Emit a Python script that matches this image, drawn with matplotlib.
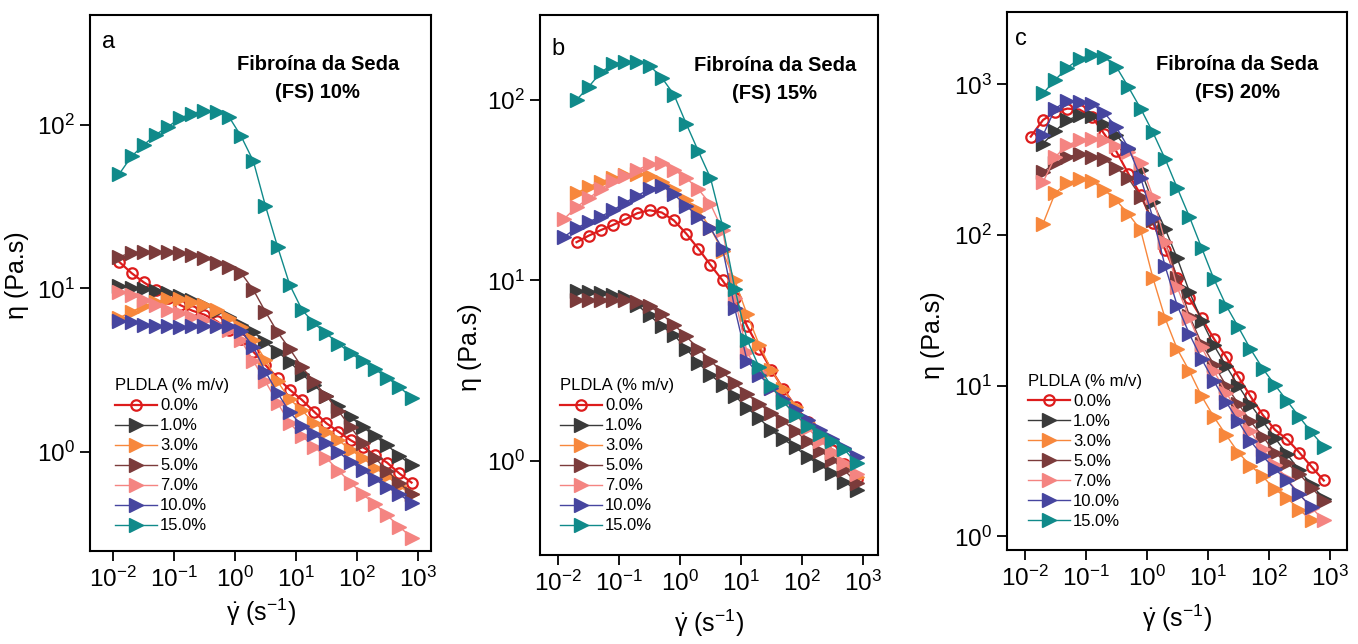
import numpy as np
import matplotlib
matplotlib.use('Agg')
import matplotlib.pyplot as plt
from matplotlib.ticker import LogLocator, NullLocator

plt.rcParams['font.family'] = ['Liberation Sans', 'DejaVu Sans']
plt.rcParams['mathtext.fontset'] = 'custom'
plt.rcParams['mathtext.rm'] = 'Liberation Sans'
plt.rcParams['mathtext.it'] = 'Liberation Sans:italic'
plt.rcParams['mathtext.bf'] = 'Liberation Sans:bold'

nan = np.nan

# shear rate (1/s), 5 points per decade
shear_rate = [0.0126, 0.02, 0.0316, 0.05, 0.0794, 0.126, 0.2, 0.316, 0.5, 0.794,
              1.26, 2.0, 3.16, 5.0, 7.94, 12.6, 20.0, 31.6, 50.0, 79.4,
              126, 200, 316, 500, 794]

pldla_labels = ['0.0%', '1.0%', '3.0%', '5.0%', '7.0%', '10.0%', '15.0%']
colors = ['#dd1c1c', '#3a3a3a', '#f7873c', '#7b3b3b', '#f48481', '#46459f', '#108a8a']

# ---- (a) FS 10% : viscosity (Pa.s)
eta_a_00 = [14.5, 12.4, 10.9, 9.8, 8.7, 7.9, 7.3, 6.9, 6.3, 5.6, 4.9, 4.1, 3.4, 2.84, 2.4,
            2.08, 1.76, 1.5, 1.33, 1.18, 1.07, 0.96, 0.86, 0.74, 0.65]
eta_a_10 = [10.4, 10.1, 9.9, 9.6, 9.4, 9.0, 8.5, 7.9, 7.3, 6.7, 6.0, 5.4, 4.7, 4.1, 3.55,
            3.0, 2.55, 2.2, 1.9, 1.64, 1.42, 1.25, 1.1, 0.95, 0.83]
eta_a_30 = [6.6, 7.2, 7.8, 8.3, 8.6, 8.6, 8.3, 7.9, 7.4, 6.6, 5.8, 4.8, 3.65, 2.7, 2.1,
            1.8, 1.5, 1.33, 1.18, 1.03, 0.92, 0.8, 0.71, 0.62, 0.55]
eta_a_50 = [15.6, 16.5, 16.7, 16.7, 16.7, 16.5, 16.0, 15.4, 14.3, 13.5, 12.4, 9.8, 7.2, 5.4, 4.26,
            3.3, 2.68, 2.2, 1.78, 1.42, 1.13, 0.92, 0.77, 0.65, 0.55]
eta_a_70 = [9.5, 9.1, 8.5, 7.9, 7.4, 7.1, 6.7, 6.4, 6.0, 5.6, 4.8, 3.6, 2.7, 2.0, 1.5,
            1.25, 1.08, 0.92, 0.77, 0.65, 0.55, 0.48, 0.41, 0.35, 0.30]
eta_a_100 = [6.3, 6.2, 6.0, 5.9, 5.85, 5.8, 5.85, 5.9, 5.9, 5.9, 5.5, 4.4, 3.1, 2.3, 1.75,
             1.45, 1.28, 1.14, 1.0, 0.87, 0.78, 0.68, 0.61, 0.55, 0.49]
eta_a_150 = [50, 64, 75, 87, 97, 110, 117, 122, 120, 112, 85, 60, 32, 18, 10.5,
             7.4, 6.1, 5.3, 4.6, 4.0, 3.6, 3.2, 2.85, 2.5, 2.15]

# ---- (b) FS 15%
eta_b_00 = [nan, 16.3, 17.7, 19, 20.3, 21.8, 23.6, 24.5, 23.8, 21.5, 18.2, 15, 12.2, 10, 8,
            5.6, 4.2, 3.2, 2.5, 2.0, 1.65, 1.38, 1.15, 0.96, 0.8]
eta_b_10 = [nan, 8.8, 8.6, 8.5, 8.3, 8.1, 7.3, 6.4, 5.6, 5.0, 4.2, 3.5, 3.0, 2.65, 2.3,
            1.97, 1.73, 1.48, 1.32, 1.19, 1.05, 0.95, 0.86, 0.77, 0.69]
eta_b_30 = [nan, 30.5, 33, 35.2, 37, 38.5, 39, 38, 35, 31.5, 28, 24.5, 19.5, 14.5, 10,
            6.5, 4.4, 3.2, 2.5, 2.0, 1.62, 1.35, 1.12, 0.95, 0.82]
eta_b_50 = [nan, 7.8, 7.8, 7.8, 7.8, 7.8, 7.6, 7.2, 6.5, 5.7, 4.9, 4.2, 3.6, 3.1, 2.7,
            2.35, 2.07, 1.85, 1.66, 1.46, 1.29, 1.14, 1.02, 0.89, 0.76]
eta_b_70 = [22, 25.5, 28.5, 32, 35.5, 38, 41, 44, 44.5, 41, 37, 32, 26.5, 19, 8,
            4.0, 3.1, 2.55, 2.15, 1.8, 1.52, 1.3, 1.12, 0.97, 0.85]
eta_b_100 = [17.5, 19.5, 21.1, 22.6, 24.5, 27, 29.5, 32, 33.5, 30, 26, 22.5, 19.5, 15, 7,
             3.6, 3.0, 2.55, 2.2, 1.92, 1.68, 1.48, 1.32, 1.18, 1.05]
eta_b_150 = [nan, 100, 118, 142, 158, 163, 163, 155, 133, 107, 74, 52, 37, 20, 9,
             4.7, 3.3, 2.6, 2.12, 1.8, 1.57, 1.41, 1.3, 1.16, 0.97]

# ---- (c) FS 20%
eta_c_00 = [450, 580, 655, 690, 680, 610, 470, 360, 255, 185, 120, 80, 52, 38, 28,
            20.5, 15.5, 11.5, 8.5, 6.4, 5.1, 4.4, 3.6, 2.9, 2.35]
eta_c_10 = [nan, 404, 490, 580, 622, 620, 545, 460, 370, 270, 165, 110, 70, 42, 27,
            18.5, 13.5, 10, 7.5, 5.8, 4.5, 3.5, 2.75, 2.2, 1.78]
eta_c_30 = [nan, 119, 190, 222, 236, 228, 200, 170, 138, 108, 52, 28, 17.5, 12.5, 8.5,
            6.2, 4.7, 3.6, 2.95, 2.5, 2.05, 1.8, 1.5, 1.28, nan]
eta_c_50 = [nan, 262, 300, 330, 345, 330, 318, 280, 238, 180, 125, 90, 52, 29, 19,
            13.8, 10, 7.6, 5.8, 4.6, 3.6, 3.05, 2.6, 2.1, 1.73]
eta_c_70 = [nan, 224, 330, 395, 425, 436, 425, 390, 355, 300, 180, 90, 45, 28, 18,
            12.5, 9, 6.6, 5.0, 3.8, 3.0, 2.4, 1.9, 1.55, 1.28]
eta_c_100 = [nan, 460, 690, 780, 760, 740, 650, 520, 380, 240, 130, 62, 34, 22, 15,
             10.7, 7.8, 5.8, 4.3, 3.4, 2.8, 2.35, 1.9, 1.56, nan]
eta_c_150 = [nan, 870, 1070, 1290, 1480, 1570, 1520, 1310, 960, 690, 480, 320, 205, 132, 82,
             51, 34, 24.5, 17.5, 13, 10.1, 7.9, 6.2, 4.9, 3.95]

panels = [
    dict(rect=[0.0663, 0.1444, 0.2511, 0.8323], letter='a', fs='10%',
         data=[eta_a_00, eta_a_10, eta_a_30, eta_a_50, eta_a_70, eta_a_100, eta_a_150],
         xlim=(10**-2.38, 10**3.22), ylim=(10**-0.605, 10**2.67),
         letter_pos=(0.035, 0.938), title_pos=(0.668, 0.925), leg_pos=(0.073, 0.322),
         ylab_pos=(-0.18, 0.515), xlab_pos=(0.5, -0.085)),
    dict(rect=[0.3976, 0.1382, 0.2489, 0.8385], letter='b', fs='15%',
         data=[eta_b_00, eta_b_10, eta_b_30, eta_b_50, eta_b_70, eta_b_100, eta_b_150],
         xlim=(10**-2.3, 10**3.25), ylim=(10**-0.52, 10**2.47),
         letter_pos=(0.035, 0.926), title_pos=(0.695, 0.925), leg_pos=(0.06, 0.327),
         ylab_pos=(-0.17, 0.385), xlab_pos=(0.5, -0.097)),
    dict(rect=[0.7415, 0.146, 0.2504, 0.8354], letter='c', fs='20%',
         data=[eta_c_00, eta_c_10, eta_c_30, eta_c_50, eta_c_70, eta_c_100, eta_c_150],
         xlim=(10**-2.29, 10**3.28), ylim=(10**-0.09, 10**3.48),
         letter_pos=(0.024, 0.939), title_pos=(0.678, 0.92), leg_pos=(0.062, 0.327),
         ylab_pos=(-0.183, 0.4), xlab_pos=(0.5, -0.097)),
]

fig = plt.figure(figsize=(13.58, 6.44), dpi=100)
fig.set_facecolor('white')

for p in panels:
    ax = fig.add_axes(p['rect'])
    ax.set_xscale('log')
    ax.set_yscale('log')
    for i, eta in enumerate(p['data']):
        if i == 0:
            ax.plot(shear_rate, eta, color=colors[i], lw=1.6, marker='o', ms=7.5,
                    mfc='none', mec=colors[i], mew=1.6, label=pldla_labels[i])
        else:
            ax.plot(shear_rate, eta, color=colors[i], lw=1.0, marker='>', ms=9.5,
                    mec=colors[i], mfc=colors[i], label=pldla_labels[i])
    ax.set_xlim(p['xlim'])
    ax.set_ylim(p['ylim'])
    ax.xaxis.set_major_locator(LogLocator(base=10, numticks=10))
    ax.yaxis.set_major_locator(LogLocator(base=10, numticks=10))
    ax.xaxis.set_minor_locator(NullLocator())
    ax.yaxis.set_minor_locator(NullLocator())
    ax.tick_params(which='major', direction='out', length=7, width=1.3,
                   labelsize=17.5, top=False, right=False, pad=4)
    for s in ax.spines.values():
        s.set_linewidth(1.5)

    ax.text(p['letter_pos'][0], p['letter_pos'][1], p['letter'], transform=ax.transAxes,
            fontsize=17, va='baseline', ha='left')
    ax.text(p['title_pos'][0], p['title_pos'][1], 'Fibroína da Seda\n(FS) ' + p['fs'],
            transform=ax.transAxes, fontsize=14.5, fontweight='bold', ha='center',
            va='top', linespacing=1.6, multialignment='center')

    ax.set_ylabel('η (Pa.s)', fontsize=18)
    ax.yaxis.set_label_coords(*p['ylab_pos'])
    ax.set_xlabel(r'$\dot{\mathrm{γ}}$ (s$^{-1}$)', fontsize=18)
    ax.xaxis.set_label_coords(*p['xlab_pos'])

    leg = ax.legend(loc='upper left', bbox_to_anchor=p['leg_pos'], frameon=False,
                    title='PLDLA (% m/v)', title_fontsize=12, fontsize=12,
                    numpoints=1, handlelength=2.5, handletextpad=0.2,
                    labelspacing=0.3, borderpad=0, borderaxespad=0,
                    alignment='left')

fig.savefig('out.png', dpi=100)
